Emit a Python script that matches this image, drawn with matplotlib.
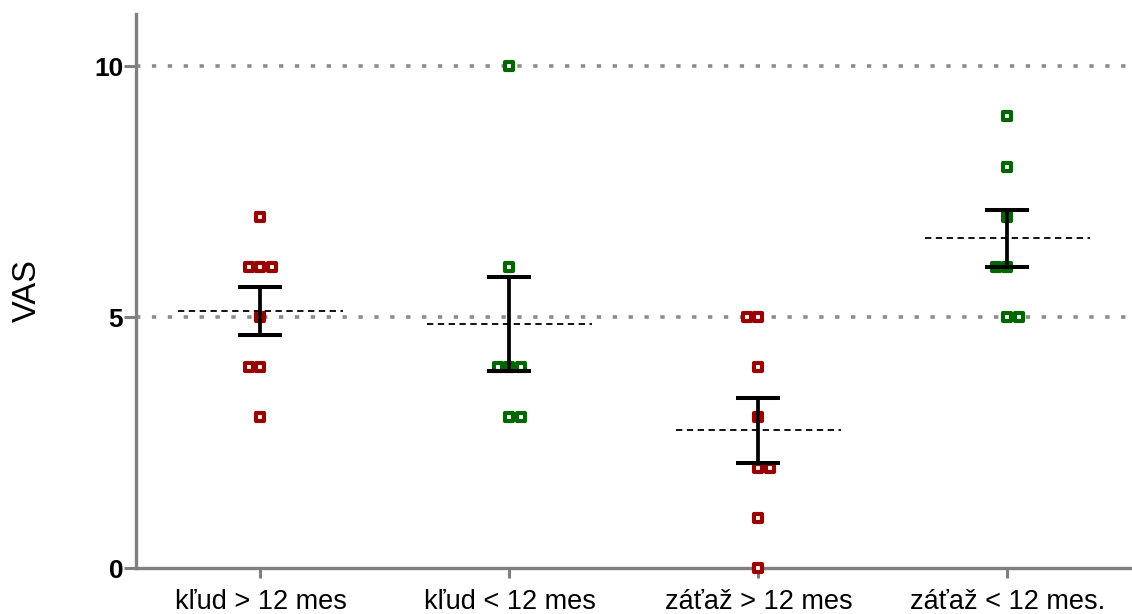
import matplotlib
matplotlib.use('Agg')
import matplotlib.pyplot as plt
from matplotlib.markers import MarkerStyle
import numpy as np

plt.rcParams['font.family'] = ['Liberation Sans', 'DejaVu Sans']

groups = ['kľud > 12 mes', 'kľud < 12 mes', 'záťaž > 12 mes', 'záťaž < 12 mes.']
kl_over = [7, 6, 6, 6, 5, 4, 4, 3]
kl_under = [10, 6, 4, 4, 4, 3, 3]
za_over = [5, 5, 4, 3, 2, 2, 1, 0]
za_under = [9, 8, 7, 6, 6, 5, 5]
series = [kl_over, kl_under, za_over, za_under]
colors = ['#990000', '#006600', '#990000', '#006600']

# which way pairs of equal values lean (GraphPad-like scatter)
lean = {(0, 4): -1, (1, 3): 1, (2, 5): -1, (2, 2): 1, (3, 6): -1, (3, 5): 1}
step = 0.048

fig = plt.figure(figsize=(11.32, 6.14), dpi=100)
ax = fig.add_axes([0.1201, 0.0749, 0.8799, 0.9023])

sq = MarkerStyle('s', joinstyle='round')
for i, vals in enumerate(series):
    vals = np.array(vals, dtype=float)
    xs = []
    ys = []
    for v in sorted(set(vals), reverse=True):
        n = int((vals == v).sum())
        if n % 2 == 1:
            offs = np.arange(n) - (n - 1) / 2
        else:
            offs = np.arange(n) - n / 2 + (1 if lean.get((i, int(v)), -1) > 0 else 0)
        for o in offs:
            xs.append(i + o * step)
            ys.append(v)
    ax.plot(xs, ys, marker=sq, ms=5.8, mfc='white', mec=colors[i], mew=3.0,
            ls='none', zorder=3, clip_on=False)
    m = vals.mean()
    sem = vals.std(ddof=1) / np.sqrt(len(vals))
    ax.plot([i - 0.33, i + 0.33], [m, m], color='black', lw=1.3,
            ls=(0, (3.5, 2.5)), zorder=4)
    ax.errorbar(i, m, yerr=sem, fmt='none', ecolor='black', elinewidth=2.7,
                capsize=15.5, capthick=2.9, zorder=5)

for yv in [5, 10]:
    ax.axhline(yv, color='#8c8c8c', lw=2.6, ls=(0, (1.2, 3.2)), zorder=1)

ax.set_xlim(-0.5, 3.5)
ax.set_ylim(0, 11.04)
ax.set_yticks([0, 5, 10])
ax.set_xticks(range(4))
ax.set_xticklabels(groups, fontsize=19.5)
for lab in ax.get_yticklabels():
    lab.set_fontweight('bold')
    lab.set_fontsize(19)
ax.set_ylabel('VAS', fontsize=23.5, labelpad=37)

for s in ['top', 'right']:
    ax.spines[s].set_visible(False)
for s in ['left', 'bottom']:
    ax.spines[s].set_color('#808080')
    ax.spines[s].set_linewidth(2.4)
ax.tick_params(axis='y', length=8.6, width=2.2, color='#808080', pad=0.5)
ax.tick_params(axis='x', length=7, width=2.2, color='#808080', pad=8)

plt.savefig('out.png', dpi=100)
